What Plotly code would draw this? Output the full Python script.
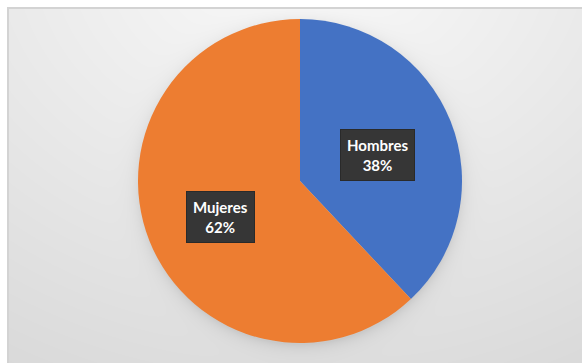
import base64
import math
import struct
import zlib

import numpy as np
import plotly.graph_objects as go

# ---------------- data ----------------
labels = ["Hombres", "Mujeres"]
values = [38, 62]
colors = ["#4472C4", "#ED7D31"]

# ---------------- layout constants ----------------
W, H = 582, 363
CX, CY, R = 300.0, 181.0, 162.0  # pie centre / radius in pixels

# ---------------- background image (frame + radial gradient + pie shadow) ----------------
yy, xx = np.mgrid[0:H, 0:W].astype(float)
d = np.sqrt(((xx - 300) * 0.8) ** 2 + (yy + 50) ** 2)
b = np.clip(251 - 0.07 * d, 218, 255)
rr = np.sqrt((xx - CX) ** 2 + (yy - (CY + 3)) ** 2)
shadow = np.where(rr > R - 2, 22 * np.exp(-np.clip(rr - R + 2, 0, None) / 7.0), 22)
b = b - shadow
img = np.stack([b, b, b], axis=-1)
# frame border + white outside
img[:7, :, :] = 255
img[:, :7, :] = 255
img[7:9, 7:, :] = 211
img[7:, 7:9, :] = 211
img = np.clip(img, 0, 255).astype(np.uint8)


def png_data_uri(arr):
    h, w, _ = arr.shape
    raw = b"".join(b"\x00" + arr[i].tobytes() for i in range(h))

    def chunk(tag, data):
        c = struct.pack(">I", len(data)) + tag + data
        return c + struct.pack(">I", zlib.crc32(tag + data) & 0xFFFFFFFF)

    png = b"\x89PNG\r\n\x1a\n"
    png += chunk(b"IHDR", struct.pack(">IIBBBBB", w, h, 8, 2, 0, 0, 0))
    png += chunk(b"IDAT", zlib.compress(raw, 9))
    png += chunk(b"IEND", b"")
    return "data:image/png;base64," + base64.b64encode(png).decode()


bg_uri = png_data_uri(img)

# ---------------- figure ----------------
fig = go.Figure(
    go.Pie(
        labels=labels,
        values=values,
        marker=dict(colors=colors, line=dict(width=0)),
        sort=False,
        direction="clockwise",
        rotation=0,
        textinfo="none",
        showlegend=False,
        domain=dict(
            x=[(CX - R) / W, (CX + R) / W],
            y=[1 - (CY + R) / H, 1 - (CY - R) / H],
        ),
    )
)

# label boxes positioned along each slice's mid-angle
total = sum(values)
start = 0.0
annotations = []
for lab, val in zip(labels, values):
    frac = val / total
    mid = (start + frac / 2) * 2 * math.pi
    start += frac
    px = CX + 0.52 * R * math.sin(mid) - 1
    py = CY - 0.52 * R * math.cos(mid) + 5
    pct = round(100 * frac)
    annotations.append(
        dict(
            x=px / W,
            y=1 - py / H,
            xref="paper",
            yref="paper",
            showarrow=False,
            text=f"<b>{lab}</b><br><b>{pct}%</b>",
            borderpad=6,
            bgcolor="#363636",
            bordercolor="#2a2a2a",
            borderwidth=1,
            font=dict(family="Lato", size=15, color="white"),
        )
    )

fig.update_layout(
    width=W,
    height=H,
    margin=dict(l=0, r=0, t=0, b=0),
    paper_bgcolor="white",
    plot_bgcolor="rgba(0,0,0,0)",
    annotations=annotations,
    images=[
        dict(
            source=bg_uri,
            xref="paper",
            yref="paper",
            x=0,
            y=1,
            sizex=1,
            sizey=1,
            xanchor="left",
            yanchor="top",
            sizing="stretch",
            layer="below",
        )
    ],
)

fig.write_html("out.html")
